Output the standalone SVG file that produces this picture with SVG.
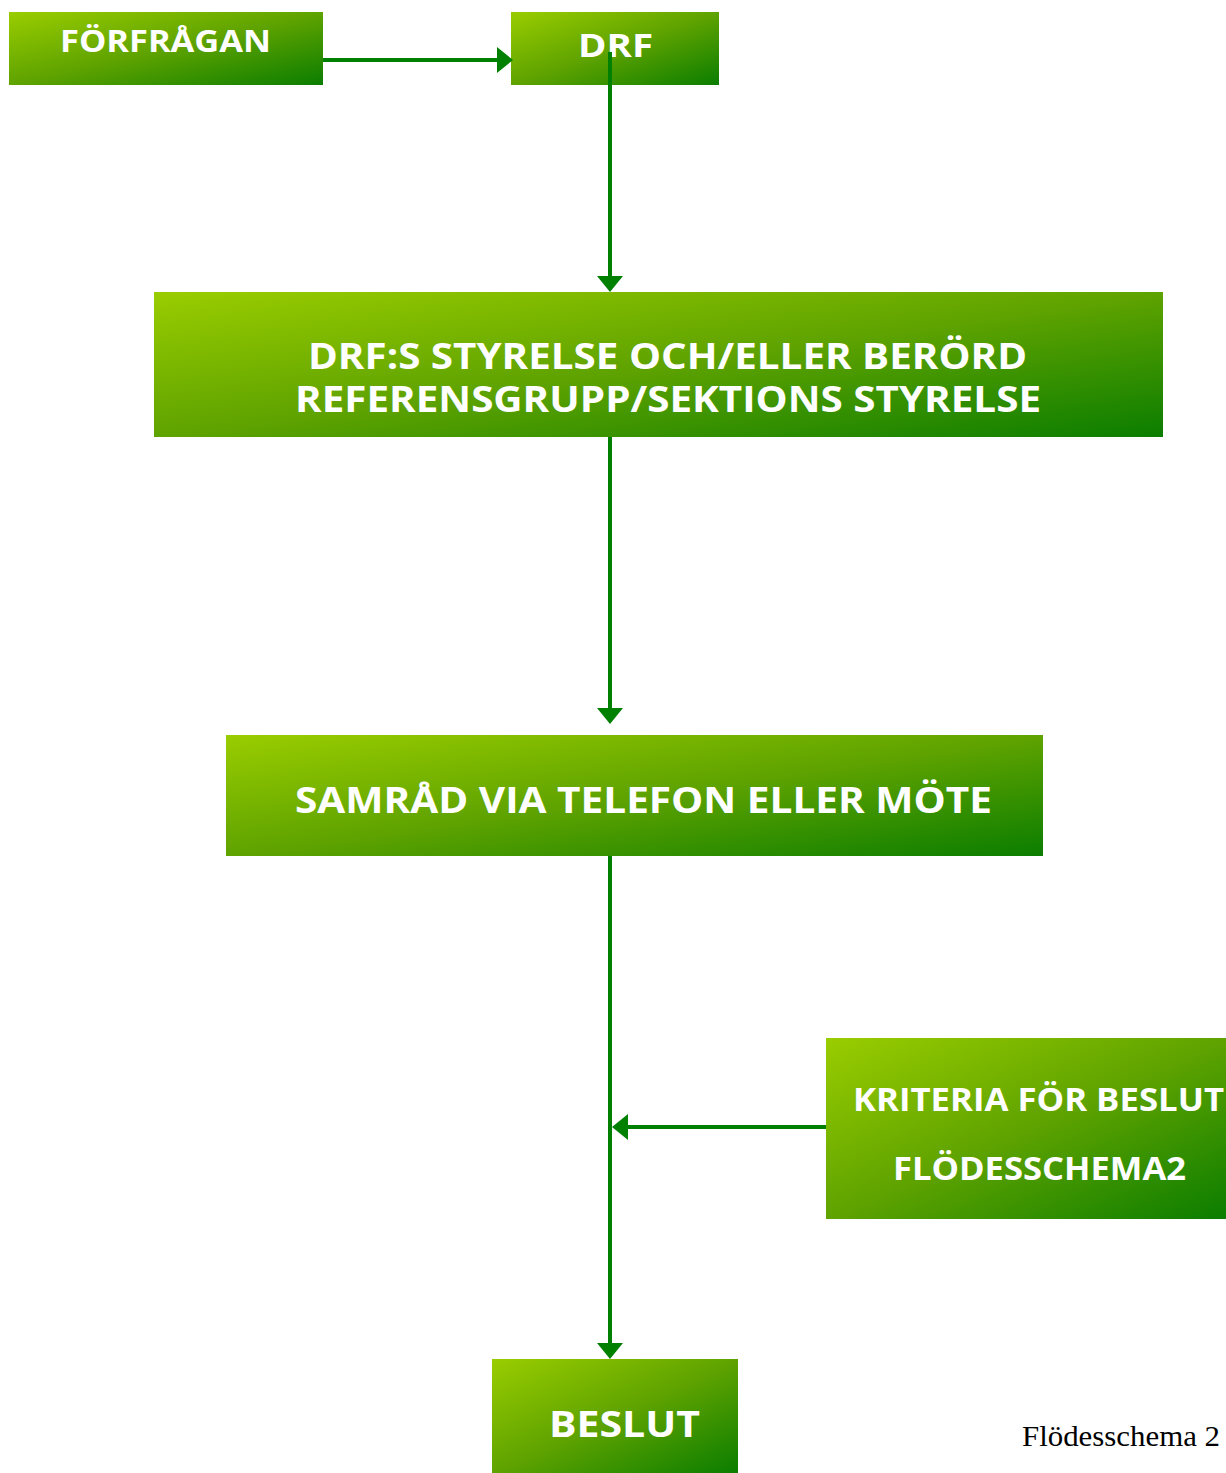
<svg xmlns="http://www.w3.org/2000/svg" width="1226" height="1473" viewBox="0 0 1226 1473">
<style>
.box{fill:url(#g)}
.t{font-family:"Open Sans","Lato","Liberation Sans",sans-serif;font-weight:700;fill:#fff;text-anchor:middle}
.c{stroke:#008000;stroke-width:4;fill:none}
</style>
<defs>
<linearGradient id="g" x1="0" y1="0" x2="1" y2="1">
<stop offset="0" stop-color="#9acd00"/>
<stop offset="0.5" stop-color="#5fa300"/>
<stop offset="1" stop-color="#0b7d00"/>
</linearGradient>
<marker id="a" markerWidth="4" markerHeight="6.5" refX="0" refY="3.25" orient="auto" markerUnits="strokeWidth" overflow="visible">
<path d="M0,0 L4,3.25 L0,6.5 Z" fill="#008000"/>
</marker>
</defs>
<rect width="1226" height="1473" fill="#fff"/>
<g id="n1"><rect class="box" x="9" y="12" width="314" height="73"/><text class="t" x="165.5" y="52" font-size="30" textLength="211" lengthAdjust="spacingAndGlyphs">FÖRFRÅGAN</text></g>
<g id="n2"><rect class="box" x="511" y="12" width="208" height="73"/><text class="t" x="615.5" y="57" font-size="32" textLength="75" lengthAdjust="spacingAndGlyphs">DRF</text></g>
<g id="n3"><rect class="box" x="154" y="292" width="1009" height="145"/><text class="t" x="667.5" y="369" font-size="36" textLength="719" lengthAdjust="spacingAndGlyphs">DRF:S STYRELSE OCH/ELLER BERÖRD</text><text class="t" x="668" y="412" font-size="36" textLength="746" lengthAdjust="spacingAndGlyphs">REFERENSGRUPP/SEKTIONS STYRELSE</text></g>
<g id="n4"><rect class="box" x="226" y="735" width="817" height="121"/><text class="t" x="643.5" y="813" font-size="36" textLength="697" lengthAdjust="spacingAndGlyphs">SAMRÅD VIA TELEFON ELLER MÖTE</text></g>
<g id="n5"><rect class="box" x="826" y="1038" width="400" height="181"/><text class="t" x="1038.5" y="1111" font-size="32" textLength="371" lengthAdjust="spacingAndGlyphs">KRITERIA FÖR BESLUT</text><text class="t" x="1039.5" y="1180" font-size="32" textLength="293" lengthAdjust="spacingAndGlyphs">FLÖDESSCHEMA2</text></g>
<g id="n6"><rect class="box" x="492" y="1359" width="246" height="114"/><text class="t" x="624.5" y="1437" font-size="36" textLength="151" lengthAdjust="spacingAndGlyphs">BESLUT</text></g>
<text x="1220" y="1446" font-family="Liberation Serif,serif" font-size="29" text-anchor="end" fill="#000" textLength="198" lengthAdjust="spacingAndGlyphs">Flödesschema 2</text>
<g id="connectors">
<path class="c" d="M323,60 H497" marker-end="url(#a)"/>
<path class="c" d="M610,52 V276" marker-end="url(#a)"/>
<path class="c" d="M610,437 V708" marker-end="url(#a)"/>
<path class="c" d="M610,856 V1343" marker-end="url(#a)"/>
<path class="c" d="M826,1127 H628" marker-end="url(#a)"/>
</g>
</svg>
